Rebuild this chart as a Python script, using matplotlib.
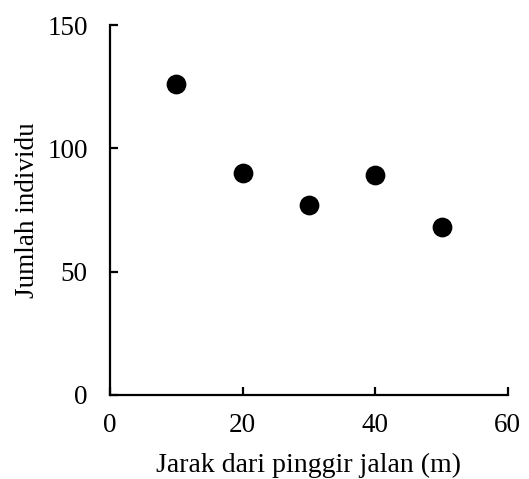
import matplotlib.pyplot as plt

plt.rcParams['font.family'] = 'Liberation Serif'

jarak = [10, 20, 30, 40, 50]
jumlah = [126, 90, 77, 89, 68]
x_ticks = [0, 20, 40, 60]
y_ticks = [0, 50, 100, 150]

fig = plt.figure(figsize=(5.29, 4.79), dpi=100)
ax = fig.add_axes([0.208, 0.1754, 0.752, 0.7724])

ax.scatter(jarak, jumlah, s=175, color='black', zorder=3, clip_on=False)

ax.set_xlim(0, 60)
ax.set_ylim(0, 150)
ax.set_xticks(x_ticks)
ax.set_yticks(y_ticks)
ax.spines['top'].set_visible(False)
ax.spines['right'].set_visible(False)
for s in ['left', 'bottom']:
    ax.spines[s].set_linewidth(1.6)
ax.tick_params(direction='in', length=6, width=1.6, labelsize=19.5)
ax.tick_params(axis='x', pad=13)
ax.tick_params(axis='y', pad=16)

ax.set_xlabel('Jarak dari pinggir jalan (m)', fontsize=20, labelpad=11)
ax.set_ylabel('Jumlah individu', fontsize=19.5, labelpad=5)

fig.savefig('out.png', dpi=100)
